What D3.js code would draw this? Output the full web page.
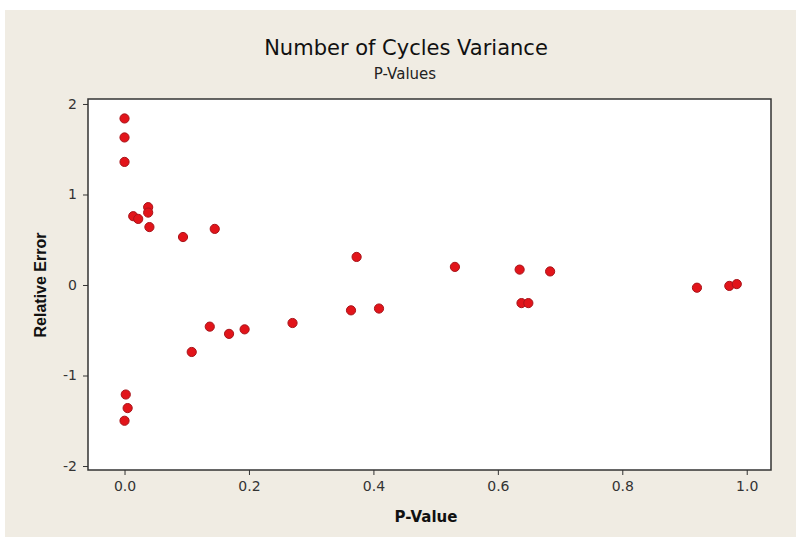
<!DOCTYPE html>
<html>
<head>
<meta charset="utf-8">
<script src="https://cdn.jsdelivr.net/npm/d3@7"></script>
<style>
  body { margin: 0; background: #fff; }
  svg { display: block; }
  .tick text { font-family: "DejaVu Sans", sans-serif; font-size: 14px; fill: #333; }
</style>
</head>
<body>
<svg id="chart" width="801" height="541"></svg>
<script>
// p-values and relative errors
var pValues = [0.000, 0.000, 0.000, 0.014, 0.022, 0.038, 0.038, 0.040, 0.094, 0.145,
  0.137, 0.168, 0.193, 0.108, 0.270, 0.002, 0.005, 0.000,
  0.373, 0.531, 0.635, 0.684, 0.364, 0.409, 0.638, 0.649,
  0.920, 0.972, 0.984];
var relErrors = [1.84, 1.63, 1.36, 0.76, 0.73, 0.86, 0.80, 0.64, 0.53, 0.62,
  -0.46, -0.54, -0.49, -0.74, -0.42, -1.21, -1.36, -1.50,
  0.31, 0.20, 0.17, 0.15, -0.28, -0.26, -0.20, -0.20,
  -0.03, -0.01, 0.01];
var xTicks = [0, 0.2, 0.4, 0.6, 0.8, 1.0];
var yTicks = [-2, -1, 0, 1, 2];

var svg = d3.select('#chart');
var frame = { left: 88, right: 771, top: 99, bottom: 470 };
var font = '"DejaVu Sans", sans-serif';

// cream panel behind everything
svg.append('rect').attr('x', 5).attr('y', 10).attr('width', 791).attr('height', 527).attr('fill', '#f0ece3');

var x = d3.scaleLinear().domain([-0.0587, 1.039]).range([frame.left, frame.right]);
var y = d3.scaleLinear().domain([-2.044, 2.055]).range([frame.bottom, frame.top]);

svg.append('rect')
  .attr('x', frame.left).attr('y', frame.top)
  .attr('width', frame.right - frame.left).attr('height', frame.bottom - frame.top)
  .attr('fill', '#fff').attr('stroke', '#333').attr('stroke-width', 1.5);

var xAxis = svg.append('g').attr('transform', 'translate(0,' + frame.bottom + ')')
  .call(d3.axisBottom(x).tickValues(xTicks).tickFormat(d3.format('.1f')).tickSize(5).tickPadding(6));
var yAxis = svg.append('g').attr('transform', 'translate(' + frame.left + ',0)')
  .call(d3.axisLeft(y).tickValues(yTicks).tickFormat(function(d) { return String(d); }).tickSize(5).tickPadding(6));
[xAxis, yAxis].forEach(function(ax) {
  ax.select('.domain').remove();
  ax.selectAll('.tick line').attr('stroke', '#333');
});

// points
var pts = pValues.map(function(p, i) { return { p: p, e: relErrors[i] }; });
svg.append('g').selectAll('circle').data(pts).enter().append('circle')
  .attr('cx', function(d) { return x(d.p); })
  .attr('cy', function(d) { return y(d.e); })
  .attr('r', 4.6)
  .attr('fill', '#e2141a')
  .attr('stroke', '#a8141a')
  .attr('stroke-width', 1);

svg.append('text').attr('x', 406).attr('y', 55).attr('text-anchor', 'middle')
  .style('font-family', font).style('font-size', '21px').style('fill', '#111')
  .text('Number of Cycles Variance');
svg.append('text').attr('x', 405).attr('y', 79).attr('text-anchor', 'middle')
  .style('font-family', font).style('font-size', '15px').style('fill', '#222')
  .text('P-Values');
svg.append('text').attr('x', 426).attr('y', 522).attr('text-anchor', 'middle')
  .style('font-family', font).style('font-size', '15px').style('font-weight', 'bold').style('fill', '#111')
  .text('P-Value');
svg.append('text').attr('transform', 'translate(46,285) rotate(-90)').attr('text-anchor', 'middle')
  .style('font-family', '"Liberation Sans", Arial, sans-serif').style('font-size', '16px').style('font-weight', 'bold').style('fill', '#111')
  .text('Relative Error');
</script>
</body>
</html>
